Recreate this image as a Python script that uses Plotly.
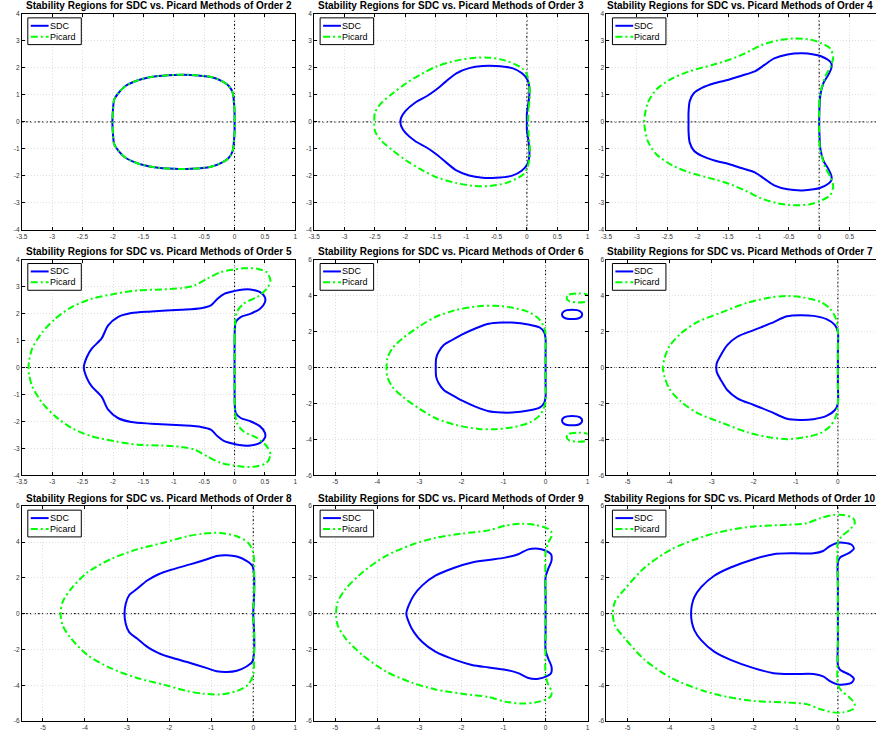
import plotly.graph_objects as go

# ---------------- data ----------------
orders = [2, 3, 4, 5, 6, 7, 8, 9, 10]
series_names = ["SDC", "Picard"]

o2_x = [0, 0, -0.01, -0.03, -0.09, -0.2, -0.39, -0.72, -0.99, -1.32, -1.59, -1.8, -1.91, -1.98, -2.0, -2.01,
        -2.0, -1.98, -1.91, -1.8, -1.59, -1.32, -0.99, -0.72, -0.39, -0.2, -0.09, -0.03, -0.01, 0, 0]
o2_y = [0, 0.35, 0.71, 1.07, 1.32, 1.5, 1.66, 1.74, 1.74, 1.68, 1.54, 1.32, 1.07, 0.83, 0.46, 0,
        -0.46, -0.83, -1.07, -1.32, -1.54, -1.68, -1.74, -1.74, -1.66, -1.5, -1.32, -1.07, -0.71, -0.35, 0]

sdc3_x = [0, 0, 0.02, 0.04, 0.04, 0.01, -0.08, -0.24, -0.51, -0.73, -0.95, -1.16, -1.33, -1.49, -1.65, -1.84, -2.0, -2.07,
          -2.08, -2.07, -2.0, -1.84, -1.65, -1.49, -1.33, -1.16, -0.95, -0.73, -0.51, -0.24, -0.08, 0.01, 0.04, 0.04, 0.02, 0, 0]
sdc3_y = [0, 0.3, 0.6, 1.0, 1.3, 1.56, 1.8, 1.99, 2.07, 2.07, 1.99, 1.8, 1.5, 1.2, 0.95, 0.71, 0.4, 0.15,
          0, -0.15, -0.4, -0.71, -0.95, -1.2, -1.5, -1.8, -1.99, -2.07, -2.07, -1.99, -1.8, -1.56, -1.3, -1.0, -0.6, -0.3, 0]
pic3_x = [0.02, 0.03, 0.05, 0.04, 0.0, -0.06, -0.14, -0.35, -0.62, -0.84, -1.16, -1.49, -1.76, -1.98, -2.2, -2.39, -2.5,
          -2.51, -2.5, -2.39, -2.2, -1.98, -1.76, -1.49, -1.16, -0.84, -0.62, -0.35, -0.14, -0.06, 0.0, 0.04, 0.05, 0.03, 0.02]
pic3_y = [0, 0.5, 1.0, 1.4, 1.75, 1.95, 2.07, 2.27, 2.38, 2.38, 2.27, 2.05, 1.74, 1.44, 1.07, 0.71, 0.34,
          0, -0.34, -0.71, -1.07, -1.44, -1.74, -2.05, -2.27, -2.38, -2.38, -2.27, -2.07, -1.95, -1.75, -1.4, -1.0, -0.5, 0]

sdc4_x = [0, 0.005, 0.02, 0.07, 0.15, 0.2, 0.2, 0.15, 0.02, -0.09, -0.28, -0.52, -0.74, -0.9, -1.06, -1.28, -1.49, -1.71,
          -1.93, -2.06, -2.13, -2.15, -2.15, -2.15, -2.13, -2.06, -1.93, -1.71, -1.49, -1.28, -1.06, -0.9, -0.74, -0.52,
          -0.28, -0.09, 0.02, 0.15, 0.2, 0.2, 0.15, 0.07, 0.02, 0.005, 0]
sdc4_y = [0, 0.5, 1.0, 1.44, 1.74, 1.99, 2.17, 2.29, 2.44, 2.5, 2.54, 2.5, 2.35, 2.11, 1.87, 1.71, 1.56, 1.44, 1.26,
          1.07, 0.77, 0.34, 0, -0.34, -0.77, -1.07, -1.26, -1.44, -1.56, -1.71, -1.87, -2.11, -2.35, -2.5, -2.54, -2.5,
          -2.44, -2.29, -2.17, -1.99, -1.74, -1.44, -1.0, -0.5, 0]
pic4_x = [0, 0, 0.02, 0.1, 0.2, 0.23, 0.18, 0.02, -0.15, -0.42, -0.68, -0.95, -1.22, -1.49, -1.76, -2.14, -2.41, -2.68,
          -2.82, -2.87, -2.88, -2.87, -2.82, -2.68, -2.41, -2.14, -1.76, -1.49, -1.22, -0.95, -0.68, -0.42, -0.15, 0.02,
          0.18, 0.23, 0.2, 0.1, 0.02, 0, 0]
pic4_y = [0, 0.6, 1.07, 1.68, 2.11, 2.41, 2.72, 2.93, 3.05, 3.09, 3.02, 2.84, 2.54, 2.29, 2.11, 1.87, 1.62, 1.2, 0.71,
          0.22, 0, -0.22, -0.71, -1.2, -1.62, -1.87, -2.11, -2.29, -2.54, -2.84, -3.02, -3.09, -3.05, -2.93, -2.72,
          -2.41, -2.11, -1.68, -1.07, -0.6, 0]

sdc5_x = [0, 0, 0.005, 0.02, 0.1, 0.26, 0.42, 0.5, 0.5, 0.42, 0.26, 0.15, -0.01, -0.17, -0.28, -0.39, -0.55, -0.88,
          -1.37, -1.7, -1.92, -2.08, -2.19, -2.35, -2.43, -2.48, -2.43, -2.35, -2.19, -2.08, -1.92, -1.7, -1.37, -0.88,
          -0.55, -0.39, -0.28, -0.17, -0.01, 0.15, 0.26, 0.42, 0.5, 0.5, 0.42, 0.26, 0.1, 0.02, 0.005, 0, 0]
sdc5_y = [0, 0.8, 1.44, 1.69, 1.87, 1.99, 2.18, 2.42, 2.6, 2.79, 2.89, 2.89, 2.83, 2.73, 2.55, 2.3, 2.2, 2.14, 2.08,
          2.02, 1.87, 1.56, 1.07, 0.7, 0.39, 0, -0.39, -0.7, -1.07, -1.56, -1.87, -2.02, -2.08, -2.14, -2.2, -2.3,
          -2.55, -2.73, -2.83, -2.89, -2.89, -2.79, -2.6, -2.42, -2.18, -1.99, -1.87, -1.69, -1.44, -0.8, 0]
pic5_x = [0, 0, 0.005, 0.04, 0.15, 0.37, 0.53, 0.59, 0.53, 0.37, 0.15, -0.01, -0.23, -0.45, -0.66, -0.88, -1.2, -1.59,
          -1.97, -2.35, -2.68, -2.95, -3.16, -3.33, -3.38, -3.39, -3.38, -3.33, -3.16, -2.95, -2.68, -2.35, -1.97, -1.59,
          -1.2, -0.88, -0.66, -0.45, -0.23, -0.01, 0.15, 0.37, 0.53, 0.59, 0.53, 0.37, 0.15, 0.04, 0.005, 0, 0]
pic5_y = [0, 1.0, 1.56, 2.06, 2.37, 2.61, 2.92, 3.22, 3.53, 3.66, 3.68, 3.63, 3.53, 3.29, 3.04, 2.94, 2.89, 2.86, 2.73,
          2.55, 2.24, 1.81, 1.32, 0.7, 0.27, 0, -0.27, -0.7, -1.32, -1.81, -2.24, -2.55, -2.73, -2.86, -2.89, -2.94,
          -3.04, -3.29, -3.53, -3.63, -3.68, -3.66, -3.53, -3.22, -2.92, -2.61, -2.37, -2.06, -1.56, -1.0, 0]

sdc6_x = [0, 0, 0, -0.03, -0.13, -0.41, -0.8, -1.04, -1.35, -1.67, -1.98, -2.22, -2.42, -2.54, -2.6, -2.61,
          -2.6, -2.54, -2.42, -2.22, -1.98, -1.67, -1.35, -1.04, -0.8, -0.41, -0.13, -0.03, 0, 0, 0]
sdc6_y = [0, 0.8, 1.62, 1.95, 2.21, 2.39, 2.5, 2.5, 2.43, 2.17, 1.84, 1.53, 1.25, 0.88, 0.52, 0,
          -0.52, -0.88, -1.25, -1.53, -1.84, -2.17, -2.43, -2.5, -2.5, -2.39, -2.21, -1.95, -1.62, -0.8, 0]
sdc6_isl_x = [0.39, 0.44, 0.63, 0.82, 0.87, 0.82, 0.63, 0.44, 0.39, None,
              0.39, 0.44, 0.63, 0.82, 0.87, 0.82, 0.63, 0.44, 0.39]
sdc6_isl_y = [2.95, 3.13, 3.21, 3.13, 2.95, 2.77, 2.69, 2.77, 2.95, None,
              -2.95, -2.77, -2.69, -2.77, -2.95, -3.13, -3.21, -3.13, -2.95]
pic6_x = [0, 0, 0, -0.06, -0.17, -0.41, -0.8, -1.2, -1.59, -2.14, -2.61, -3.01, -3.4, -3.64, -3.76, -3.78,
          -3.76, -3.64, -3.4, -3.01, -2.61, -2.14, -1.59, -1.2, -0.8, -0.41, -0.17, -0.06, 0, 0, 0]
pic6_y = [0, 1.0, 1.9, 2.36, 2.73, 3.09, 3.33, 3.43, 3.41, 3.19, 2.82, 2.27, 1.62, 1.07, 0.52, 0,
          -0.52, -1.07, -1.62, -2.27, -2.82, -3.19, -3.41, -3.43, -3.33, -3.09, -2.73, -2.36, -1.9, -1.0, 0]
pic6_isl_x = [0.5, 0.56, 0.78, 1.0, 1.06, 1.0, 0.78, 0.56, 0.5, None,
              0.5, 0.56, 0.78, 1.0, 1.06, 1.0, 0.78, 0.56, 0.5]
pic6_isl_y = [3.87, 4.05, 4.12, 4.05, 3.87, 3.69, 3.62, 3.69, 3.87, None,
              -3.87, -3.69, -3.62, -3.69, -3.87, -4.05, -4.12, -4.05, -3.87]

sdc7_x = [0, 0, 0, -0.07, -0.27, -0.58, -0.9, -1.21, -1.6, -2.0, -2.39, -2.63, -2.78, -2.88, -2.89,
          -2.88, -2.78, -2.63, -2.39, -2.0, -1.6, -1.21, -0.9, -0.58, -0.27, -0.07, 0, 0, 0]
sdc7_y = [0, 1.0, 1.99, 2.36, 2.69, 2.87, 2.91, 2.85, 2.45, 2.08, 1.71, 1.25, 0.7, 0.24, 0,
          -0.24, -0.7, -1.25, -1.71, -2.08, -2.45, -2.85, -2.91, -2.87, -2.69, -2.36, -1.99, -1.0, 0]
pic7_x = [0, 0, 0, -0.05, -0.19, -0.42, -0.82, -1.21, -1.6, -2.15, -2.78, -3.33, -3.73, -4.0, -4.12, -4.16,
          -4.12, -4.0, -3.73, -3.33, -2.78, -2.15, -1.6, -1.21, -0.82, -0.42, -0.19, -0.05, 0, 0, 0]
pic7_y = [0, 1.0, 1.99, 2.73, 3.28, 3.65, 3.89, 3.98, 3.89, 3.6, 3.05, 2.54, 1.9, 1.2, 0.52, 0,
          -0.52, -1.2, -1.9, -2.54, -3.05, -3.6, -3.89, -3.98, -3.89, -3.65, -3.28, -2.73, -1.99, -1.0, 0]

sdc8_x = [0, 0.02, 0.02, -0.02, -0.16, -0.39, -0.63, -0.87, -1.1, -1.5, -1.95, -2.25, -2.52, -2.76, -2.95, -3.03,
          -3.06, -3.03, -2.95, -2.76, -2.52, -2.25, -1.95, -1.5, -1.1, -0.87, -0.63, -0.39, -0.16, -0.02, 0.02, 0.02, 0]
sdc8_y = [0, 1.0, 2.12, 2.67, 2.95, 3.19, 3.26, 3.22, 3.04, 2.75, 2.45, 2.2, 1.85, 1.39, 1.03, 0.57,
          0, -0.57, -1.03, -1.39, -1.85, -2.2, -2.45, -2.75, -3.04, -3.22, -3.26, -3.19, -2.95, -2.67, -2.12, -1.0, 0]
pic8_x = [0, 0.02, 0.02, 0, -0.12, -0.39, -0.79, -1.18, -1.57, -2.13, -2.76, -3.39, -3.94, -4.33, -4.53, -4.58,
          -4.53, -4.33, -3.94, -3.39, -2.76, -2.13, -1.57, -1.18, -0.79, -0.39, -0.12, 0, 0.02, 0.02, 0]
pic8_y = [0, 1.2, 2.31, 3.41, 3.96, 4.32, 4.51, 4.47, 4.32, 3.96, 3.59, 3.04, 2.31, 1.39, 0.66, 0,
          -0.66, -1.39, -2.31, -3.04, -3.59, -3.96, -4.32, -4.47, -4.51, -4.32, -3.96, -3.41, -2.31, -1.2, 0]

sdc9_x = [0, 0, 0, 0.06, 0.14, 0.13, 0.02, -0.17, -0.41, -0.65, -0.96, -1.36, -1.75, -2.15, -2.62, -2.93, -3.13, -3.25,
          -3.31, -3.25, -3.13, -2.93, -2.62, -2.15, -1.75, -1.36, -0.96, -0.65, -0.41, -0.17, 0.02, 0.13, 0.14, 0.06,
          0, 0, 0]
sdc9_y = [0, 1.0, 2.03, 2.49, 2.95, 3.32, 3.5, 3.63, 3.59, 3.32, 3.13, 3.0, 2.86, 2.58, 2.12, 1.58, 1.03, 0.48,
          0, -0.48, -1.03, -1.58, -2.12, -2.58, -2.86, -3.0, -3.13, -3.32, -3.59, -3.63, -3.5, -3.32, -2.95, -2.49,
          -2.03, -1.0, 0]
pic9_x = [0, 0, 0, 0.06, 0.14, 0.13, 0.02, -0.25, -0.57, -0.96, -1.36, -1.99, -2.62, -3.17, -3.8, -4.35, -4.75, -4.94,
          -4.98, -4.94, -4.75, -4.35, -3.8, -3.17, -2.62, -1.99, -1.36, -0.96, -0.57, -0.25, 0.02, 0.13, 0.14, 0.06,
          0, 0, 0]
pic9_y = [0, 1.5, 3.41, 3.95, 4.32, 4.6, 4.78, 4.96, 5.02, 4.91, 4.65, 4.47, 4.23, 3.86, 3.22, 2.31, 1.39, 0.66,
          0, -0.66, -1.39, -2.31, -3.22, -3.86, -4.23, -4.47, -4.65, -4.91, -5.02, -4.96, -4.78, -4.6, -4.32, -3.95,
          -3.41, -1.5, 0]

sdc10_x = [0, 0, 0, 0.05, 0.28, 0.38, 0.32, 0.13, 0, -0.19, -0.35, -0.58, -1.05, -1.53, -2.0, -2.55, -2.94, -3.25,
           -3.41, -3.47, -3.49, -3.47, -3.41, -3.25, -2.94, -2.55, -2.0, -1.53, -1.05, -0.58, -0.35, -0.19, 0, 0.13,
           0.32, 0.38, 0.28, 0.05, 0, 0, 0]
sdc10_y = [0, 1.5, 2.86, 3.13, 3.41, 3.63, 3.86, 3.96, 3.96, 3.77, 3.5, 3.37, 3.37, 3.32, 3.04, 2.58, 2.12, 1.48,
           0.93, 0.48, 0, -0.48, -0.93, -1.48, -2.12, -2.58, -3.04, -3.32, -3.37, -3.37, -3.5, -3.77, -3.96, -3.96,
           -3.86, -3.63, -3.41, -3.13, -2.86, -1.5, 0]
pic10_x = [0, 0, 0, 0.09, 0.28, 0.4, 0.36, 0.13, -0.11, -0.42, -0.74, -1.21, -2.0, -2.63, -3.18, -3.96, -4.59, -5.06,
           -5.3, -5.35, -5.3, -5.06, -4.59, -3.96, -3.18, -2.63, -2.0, -1.21, -0.74, -0.42, -0.11, 0.13, 0.36, 0.4,
           0.28, 0.09, 0, 0, 0]
pic10_y = [0, 2.0, 3.96, 4.32, 4.69, 5.05, 5.33, 5.51, 5.51, 5.33, 5.05, 4.96, 4.87, 4.65, 4.32, 3.59, 2.58, 1.39,
           0.66, 0, -0.66, -1.39, -2.58, -3.59, -4.32, -4.65, -4.87, -4.96, -5.05, -5.33, -5.51, -5.51, -5.33, -5.05,
           -4.69, -4.32, -3.96, -2.0, 0]

# tick values / labels
xt_small = [-3.5, -3, -2.5, -2, -1.5, -1, -0.5, 0, 0.5, 1]
xt_small_lbl = ["-3.5", "-3", "-2.5", "-2", "-1.5", "-1", "-0.5", "0", "0.5", "1"]
xt_big = [-5, -4, -3, -2, -1, 0, 1]
xt_big_lbl = ["-5", "-4", "-3", "-2", "-1", "0", "1"]
yt_small = [-4, -3, -2, -1, 0, 1, 2, 3, 4]
yt_small_lbl = ["-4", "-3", "-2", "-1", "0", "1", "2", "3", "4"]
yt_big = [-6, -4, -2, 0, 2, 4, 6]
yt_big_lbl = ["-6", "-4", "-2", "0", "2", "4", "6"]

# ---------------- layout / drawing ----------------
W, H = 878, 740
col_px = [(16, 292), (311, 587), (606, 882)]
row_px = [(10, 228), (258, 476), (507, 724)]

small = dict(xr=[-3.5, 1], yr=[-4, 4], xt=xt_small, xl=xt_small_lbl, yt=yt_small, yl=yt_small_lbl)
big = dict(xr=[-5.5, 1], yr=[-6, 6], xt=xt_big, xl=xt_big_lbl, yt=yt_big, yl=yt_big_lbl)

panels = [
    (small, [(o2_x, o2_y)], [(o2_x, o2_y)]),
    (small, [(sdc3_x, sdc3_y)], [(pic3_x, pic3_y)]),
    (small, [(sdc4_x, sdc4_y)], [(pic4_x, pic4_y)]),
    (small, [(sdc5_x, sdc5_y)], [(pic5_x, pic5_y)]),
    (big, [(sdc6_x, sdc6_y), (sdc6_isl_x, sdc6_isl_y)], [(pic6_x, pic6_y), (pic6_isl_x, pic6_isl_y)]),
    (big, [(sdc7_x, sdc7_y)], [(pic7_x, pic7_y)]),
    (big, [(sdc8_x, sdc8_y)], [(pic8_x, pic8_y)]),
    (big, [(sdc9_x, sdc9_y)], [(pic9_x, pic9_y)]),
    (big, [(sdc10_x, sdc10_y)], [(pic10_x, pic10_y)]),
]

BLUE = "#0000FF"
GREEN = "#00FF00"
GDASH = "7px,3px,2px,3px"
FONT = "Liberation Sans, Arial, Helvetica, sans-serif"


def px_x(v):
    return v / W


def px_y(v):
    return 1 - v / H


fig = go.Figure()
layout = dict(width=W, height=H, margin=dict(l=0, r=0, t=0, b=0),
              paper_bgcolor="white", plot_bgcolor="white", showlegend=False,
              font=dict(family=FONT, color="#222222"))
annotations = []
shapes = []

for i, (cfg, sdc_parts, pic_parts) in enumerate(panels):
    r, c = divmod(i, 3)
    k = i + 1
    sfx = "" if k == 1 else str(k)
    xa, ya = "x" + sfx, "y" + sfx
    l_px, r_px = col_px[c]
    t_px, b_px = row_px[r]
    x0, x1 = cfg["xr"]
    clip = r_px > W
    if clip:
        x1_vis = x0 + (W - l_px) / (r_px - l_px) * (x1 - x0)
        dom_x = [l_px / W, 1.0]
    else:
        x1_vis = x1
        dom_x = [l_px / W, r_px / W]
    dom_y = [1 - b_px / H, 1 - t_px / H]

    for j, (px, py) in enumerate(sdc_parts):
        fig.add_trace(go.Scatter(x=px, y=py, mode="lines", name=series_names[0], xaxis=xa, yaxis=ya,
                                 line=dict(color=BLUE, width=2, shape="spline", smoothing=0.8)))
    for j, (px, py) in enumerate(pic_parts):
        fig.add_trace(go.Scatter(x=px, y=py, mode="lines", name=series_names[1], xaxis=xa, yaxis=ya,
                                 line=dict(color=GREEN, width=2, dash=GDASH, shape="spline", smoothing=0.8)))

    axcommon = dict(showline=True, linecolor="black", linewidth=1, ticks="inside", ticklen=3,
                    tickcolor="black", showgrid=True, gridcolor="#dedede", griddash="1px,2px", gridwidth=1,
                    zeroline=False, tickfont=dict(size=6.5, color="#333333", family=FONT))
    layout["xaxis" + sfx] = dict(axcommon, domain=dom_x, range=[x0, x1_vis], anchor=ya,
                                 tickvals=cfg["xt"], ticktext=cfg["xl"], mirror="ticks")
    layout["yaxis" + sfx] = dict(axcommon, domain=dom_y, range=cfg["yr"], anchor=xa,
                                 tickvals=cfg["yt"], ticktext=cfg["yl"],
                                 mirror=(False if clip else "ticks"))
    # dotted axes through the origin
    shapes.append(dict(type="line", xref=xa, yref=ya, x0=x0, x1=x1_vis, y0=0, y1=0,
                       line=dict(color="black", width=1, dash="2px,2px"), layer="below"))
    shapes.append(dict(type="line", xref=xa, yref=ya, x0=0, x1=0, y0=cfg["yr"][0], y1=cfg["yr"][1],
                       line=dict(color="black", width=1, dash="2px,2px"), layer="below"))

    # legend box (drawn like the MATLAB legend)
    bx0, by0 = l_px + 6, t_px + 4
    bx1, by1 = bx0 + 54, by0 + 27
    shapes.append(dict(type="rect", xref="paper", yref="paper", x0=px_x(bx0), x1=px_x(bx1),
                       y0=px_y(by1), y1=px_y(by0), fillcolor="white",
                       line=dict(color="black", width=1), layer="above"))
    for n, (nm, col, dsh) in enumerate([(series_names[0], BLUE, "solid"), (series_names[1], GREEN, GDASH)]):
        yy = by0 + 8 + 11 * n
        shapes.append(dict(type="line", xref="paper", yref="paper", x0=px_x(bx0 + 3), x1=px_x(bx0 + 21),
                           y0=px_y(yy), y1=px_y(yy), line=dict(color=col, width=2, dash=dsh), layer="above"))
        annotations.append(dict(text=nm, xref="paper", yref="paper", x=px_x(bx0 + 21), y=px_y(yy),
                                xanchor="left", yanchor="middle", showarrow=False, borderpad=0,
                                font=dict(size=9, family=FONT, color="black")))

    # title
    cx = (l_px + r_px) / 2 - (3 if clip else 0)
    annotations.append(dict(text="Stability Regions for SDC vs. Picard Methods of Order %d" % orders[i],
                            xref="paper", yref="paper", x=cx / W, y=px_y(t_px - 8),
                            xanchor="center", yanchor="middle", showarrow=False,
                            font=dict(size=10, family=FONT, color="black", weight="bold")))

layout["annotations"] = annotations
layout["shapes"] = shapes
fig.update_layout(**layout)

fig.write_html("out.html", config={"displayModeBar": False},
               post_script="document.body.style.margin='0';")
